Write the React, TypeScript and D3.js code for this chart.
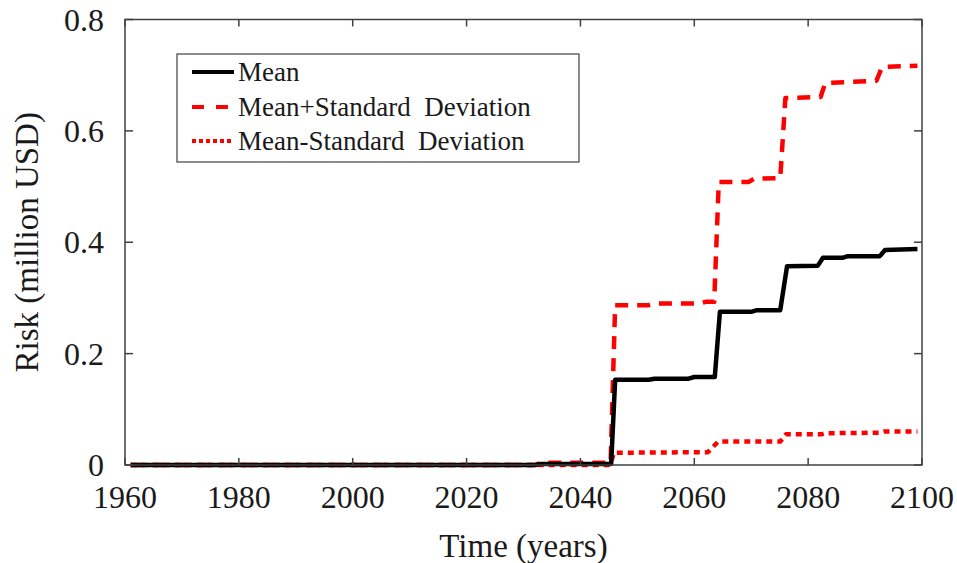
import React from "react";
import * as d3 from "d3";

const xTicks = [1960, 1980, 2000, 2020, 2040, 2060, 2080, 2100];
const yTicks = [0, 0.2, 0.4, 0.6, 0.8];
const yTickLabels = ["0", "0.2", "0.4", "0.6", "0.8"];

const meanYears = [1961, 2032, 2033, 2045.4, 2046.1, 2052, 2053, 2059, 2060, 2063.6, 2064.5, 2070, 2071, 2075.1, 2076.3, 2081.7, 2082.6, 2086, 2087, 2092.6, 2093.5, 2099.2];
const meanValues = [0, 0, 0.002, 0.002, 0.153, 0.153, 0.155, 0.155, 0.158, 0.158, 0.275, 0.275, 0.278, 0.278, 0.357, 0.358, 0.372, 0.372, 0.375, 0.375, 0.386, 0.388];

const plusYears = [1961, 2032, 2033, 2045.3, 2046.1, 2052, 2053, 2061, 2062, 2063.5, 2064.3, 2069.5, 2070.5, 2075.1, 2076.0, 2082.2, 2083.0, 2092.0, 2093.0, 2099.2];
const plusValues = [0, 0, 0.004, 0.004, 0.287, 0.287, 0.29, 0.29, 0.293, 0.293, 0.508, 0.508, 0.514, 0.515, 0.659, 0.661, 0.686, 0.69, 0.715, 0.717];

const minusYears = [1961, 2045.2, 2045.9, 2062.4, 2064.2, 2075.1, 2076.1, 2082.3, 2083.0, 2092.5, 2093.3, 2099.2];
const minusValues = [0, 0, 0.022, 0.023, 0.042, 0.042, 0.055, 0.055, 0.057, 0.058, 0.06, 0.06];

const legendLabels = ["Mean", "Mean+Standard\u00A0 Deviation", "Mean-Standard\u00A0 Deviation"];

const W = 957;
const H = 563;
const left = 125;
const right = 922;
const top = 19.5;
const bottom = 465;
const FONT = "'Liberation Serif', 'Times New Roman', serif";
const AXIS = "#404040";

export default function App() {
  const x = d3.scaleLinear().domain([1960, 2100]).range([left, right]);
  const y = d3.scaleLinear().domain([0, 0.8]).range([bottom, top]);

  const mk = (ys: number[], vs: number[]) =>
    d3.line<number>().x((_, i) => x(ys[i])).y((v) => y(v))(vs) || "";

  const series = [
    { d: mk(minusYears, minusValues), stroke: "#ff0000", w: 4.5, dash: "6,5" },
    { d: mk(plusYears, plusValues), stroke: "#ff0000", w: 4.5, dash: "13,9" },
    { d: mk(meanYears, meanValues), stroke: "#000000", w: 4.5, dash: undefined },
  ];

  const legendStyles = [
    { stroke: "#000000", dash: undefined as string | undefined },
    { stroke: "#ff0000", dash: "12,12" },
    { stroke: "#ff0000", dash: "4,3" },
  ];
  const legendRows = [72, 107, 141];

  return (
    <svg width={W} height={H} style={{ position: "absolute", left: 0, top: 0, background: "#fff" }} fontFamily={FONT}>
      <rect x={0} y={0} width={W} height={H} fill="#fff" />
      {series.map((s, i) => (
        <path key={i} d={s.d} fill="none" stroke={s.stroke} strokeWidth={s.w} strokeDasharray={s.dash} strokeLinejoin="round" />
      ))}
      <rect x={left} y={top} width={right - left} height={bottom - top} fill="none" stroke={AXIS} strokeWidth={1.5} />
      {xTicks.map((t) => (
        <g key={"x" + t}>
          <line x1={x(t)} x2={x(t)} y1={bottom} y2={bottom - 7} stroke={AXIS} strokeWidth={1.5} />
          <line x1={x(t)} x2={x(t)} y1={top} y2={top + 7} stroke={AXIS} strokeWidth={1.5} />
          <text x={x(t)} y={497} fontSize={32} textAnchor="middle" dominantBaseline="central" fill="#1a1a1a">{t}</text>
        </g>
      ))}
      {yTicks.map((t, i) => (
        <g key={"y" + t}>
          <line x1={left} x2={left + 8} y1={y(t)} y2={y(t)} stroke={AXIS} strokeWidth={1.5} />
          <line x1={right} x2={right - 8} y1={y(t)} y2={y(t)} stroke={AXIS} strokeWidth={1.5} />
          <text x={104} y={y(t)} fontSize={32} textAnchor="end" dominantBaseline="central" fill="#1a1a1a">{yTickLabels[i]}</text>
        </g>
      ))}
      <text x={(left + right) / 2} y={546} fontSize={33} textAnchor="middle" dominantBaseline="central" fill="#1a1a1a">Time (years)</text>
      <text transform={`translate(27,${(top + bottom) / 2}) rotate(-90)`} fontSize={33} textAnchor="middle" dominantBaseline="central" fill="#1a1a1a">Risk (million USD)</text>
      <rect x={177} y={54} width={402} height={108} fill="#fff" stroke={AXIS} strokeWidth={1.2} />
      {legendLabels.map((lab, i) => (
        <g key={lab}>
          <line x1={192} x2={234} y1={legendRows[i]} y2={legendRows[i]} stroke={legendStyles[i].stroke} strokeWidth={4} strokeDasharray={legendStyles[i].dash} />
          <text x={238} y={legendRows[i]} fontSize={27} dominantBaseline="central" fill="#1a1a1a">{lab}</text>
        </g>
      ))}
    </svg>
  );
}
